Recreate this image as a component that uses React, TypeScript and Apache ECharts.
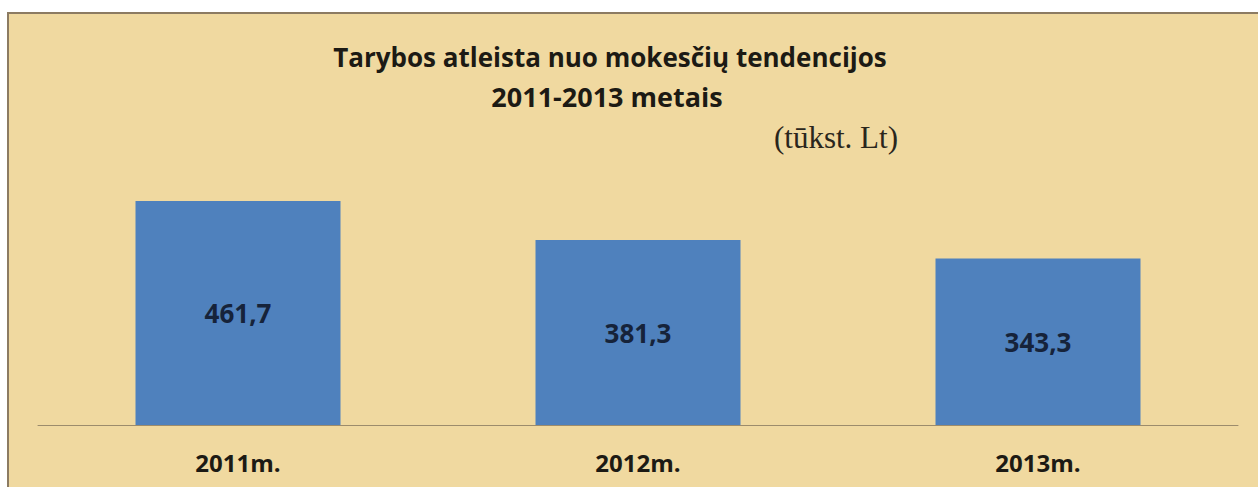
import React, { useEffect, useRef } from "react";
import * as echarts from "echarts";

const categories = ["2011m.", "2012m.", "2013m."];
const values = [461.7, 381.3, 343.3];
const titleLines = ["Tarybos atleista nuo mokesčių tendencijos", "2011-2013 metais"];
const unitLabel = "(tūkst. Lt)";

export default function App() {
  const ref = useRef<HTMLDivElement>(null);
  useEffect(() => {
    document.body.style.margin = "0";
    const chart = echarts.init(ref.current!, null, { renderer: "svg" });
    const font = "'Open Sans', 'DejaVu Sans', sans-serif";
    chart.setOption({
      animation: false,
      backgroundColor: "#ffffff",
      graphic: [
        {
          type: "rect",
          z: -10,
          shape: { x: 8, y: 13, width: 1262, height: 490 },
          style: { fill: "#f0d9a0", stroke: "#8c7b62", lineWidth: 2 },
        },
        {
          type: "text",
          x: 610,
          y: 57,
          style: {
            text: titleLines[0],
            font: `bold 26px ${font}`,
            fill: "#1c1a14",
            textAlign: "center",
            textVerticalAlign: "middle",
          },
        },
        {
          type: "text",
          x: 607,
          y: 96,
          style: {
            text: titleLines[1],
            font: `bold 27px ${font}`,
            fill: "#1c1a14",
            textAlign: "center",
            textVerticalAlign: "middle",
          },
        },
        {
          type: "text",
          x: 836,
          y: 137,
          style: {
            text: unitLabel,
            font: "31px 'Liberation Serif', 'DejaVu Serif', serif",
            fill: "#2a261c",
            textAlign: "center",
            textVerticalAlign: "middle",
          },
        },
      ],
      grid: { left: 38, right: 20, top: 134, bottom: 62 },
      xAxis: {
        type: "category",
        data: categories,
        axisLine: { show: true, lineStyle: { color: "#9c8c6c", width: 1 } },
        axisTick: { show: false },
        axisLabel: {
          margin: 25,
          fontFamily: "'Open Sans', sans-serif",
          fontWeight: "bold",
          fontSize: 24,
          color: "#1c1a14",
        },
      },
      yAxis: {
        type: "value",
        min: 0,
        max: 600,
        show: false,
        splitLine: { show: false },
      },
      series: [
        {
          type: "bar",
          data: values,
          barWidth: 205,
          itemStyle: { color: "#4f81bd" },
          label: {
            show: true,
            position: "inside",
            formatter: (p: any) => String(p.value).replace(".", ","),
            fontFamily: "'Open Sans', sans-serif",
            fontWeight: "bold",
            fontSize: 26,
            color: "#16233a",
          },
        },
      ],
    });
    return () => chart.dispose();
  }, []);
  return <div ref={ref} style={{ width: 1258, height: 487 }} />;
}
